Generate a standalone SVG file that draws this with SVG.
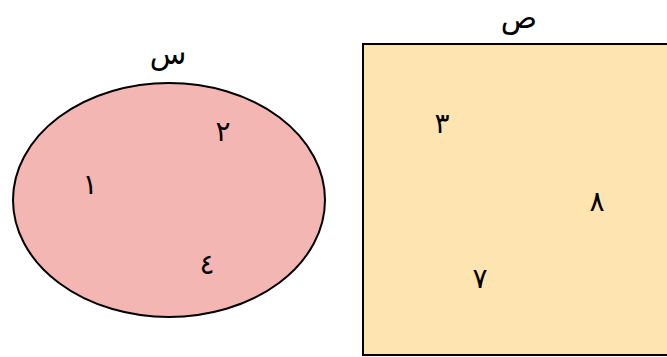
<svg xmlns="http://www.w3.org/2000/svg" width="667" height="357" viewBox="0 0 667 357">
<style>
.t{font-family:"DejaVu Sans","Noto Sans",sans-serif;font-size:28px;fill:#000;text-anchor:middle}
.l{font-size:30px}
.s{stroke:#000;stroke-width:2}
</style>
<rect width="667" height="357" fill="#fff"/>
<g id="setX">
<ellipse class="s" cx="169" cy="200" rx="156" ry="117" fill="#f4b6b2"/>
<text class="t l" x="168" y="64" direction="rtl">س</text>
<text class="t" x="90" y="194">١</text>
<text class="t" x="223" y="141">٢</text>
<text class="t" x="207" y="274">٤</text>
</g>
<g id="setY">
<rect class="s" x="363" y="44" width="320" height="311" fill="#fde4b0"/>
<text class="t l" x="519" y="28" direction="rtl">ص</text>
<text class="t" x="442" y="133">٣</text>
<text class="t" x="597" y="211">٨</text>
<text class="t" x="480" y="288">٧</text>
</g>
<g id="connectors"></g>
</svg>
